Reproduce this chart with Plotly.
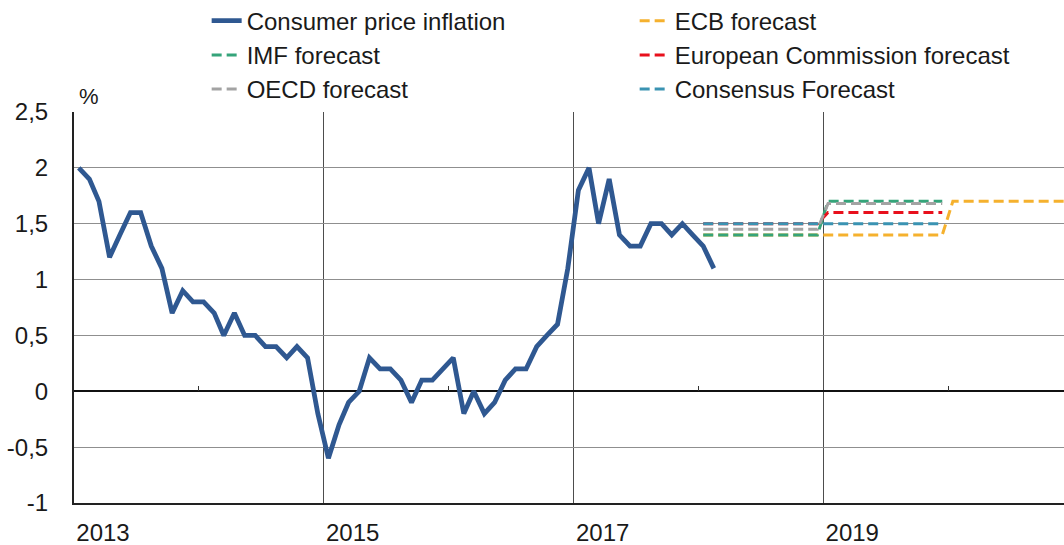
import pandas as pd
import plotly.graph_objects as go

# ---------------- data ----------------
cpi = [2.0, 1.9, 1.7, 1.2, 1.4, 1.6, 1.6, 1.3, 1.1, 0.7, 0.9, 0.8,
       0.8, 0.7, 0.5, 0.7, 0.5, 0.5, 0.4, 0.4, 0.3, 0.4, 0.3, -0.2,
       -0.6, -0.3, -0.1, 0.0, 0.3, 0.2, 0.2, 0.1, -0.1, 0.1, 0.1, 0.2,
       0.3, -0.2, 0.0, -0.2, -0.1, 0.1, 0.2, 0.2, 0.4, 0.5, 0.6, 1.1,
       1.8, 2.0, 1.5, 1.9, 1.4, 1.3, 1.3, 1.5, 1.5, 1.4, 1.5, 1.4,
       1.3, 1.1]
cpi_start = "2013-01-01"

fc_years = [2018, 2019]
imf_fc = [1.4, 1.7]
oecd_fc = [1.45, 1.68]
ec_fc = [1.5, 1.6]
consensus_fc = [1.5, 1.5]
ecb_years = [2018, 2019, 2020]
ecb_fc = [1.4, 1.4, 1.7]

x_tick_years = [2013, 2015, 2017, 2019]
minor_tick_years = [2014, 2016, 2018, 2020]
y_ticks = [-1, -0.5, 0, 0.5, 1, 1.5, 2, 2.5]
y_tick_text = ["-1", "-0,5", "0", "0,5", "1", "1,5", "2", "2,5"]

# ---------------- helpers ----------------
cpi_dates = pd.date_range(cpi_start, periods=len(cpi), freq="MS") + pd.Timedelta(days=14)


def step_series(years, values):
    xs, ys = [], []
    for yr, v in zip(years, values):
        xs += [f"{yr}-01-15", f"{yr}-12-15"]
        ys += [v, v]
    return xs, ys


FONT = "Liberation Sans, Arial, sans-serif"
TXT = "#1a1a1a"
fig = go.Figure()

fig.add_trace(go.Scatter(x=cpi_dates, y=cpi, mode="lines", name="Consumer price inflation",
                         line=dict(color="#2f5891", width=4.8)))

series = [
    ("ECB forecast", ecb_years, ecb_fc, "#f5b12e"),
    ("IMF forecast", fc_years, imf_fc, "#35a47a"),
    ("European Commission forecast", fc_years, ec_fc, "#e8101c"),
    ("OECD forecast", fc_years, oecd_fc, "#a3a3a3"),
    ("Consensus Forecast", fc_years, consensus_fc, "#3a93b2"),
]
for name, yrs, vals, col in series:
    xs, ys = step_series(yrs, vals)
    fig.add_trace(go.Scatter(x=xs, y=ys, mode="lines", name=name,
                             line=dict(color=col, width=3, dash="10px,5px")))

fig.update_layout(
    width=1064, height=545,
    margin=dict(l=74, r=0, t=112, b=42, autoexpand=False),
    paper_bgcolor="white", plot_bgcolor="white",
    separators=", ",
    font=dict(family=FONT, size=24, color=TXT),
    showlegend=True,
    legend=dict(orientation="h", x=0.134, y=1.29, xanchor="left", yanchor="top",
                entrywidth=383, entrywidthmode="pixels",
                font=dict(family=FONT, size=24, color=TXT),
                bgcolor="rgba(0,0,0,0)", tracegroupgap=0),
    xaxis=dict(type="date", range=["2013-01-01", "2020-12-05"], automargin=False,
               tickmode="array",
               tickvals=[f"{y}-01-01" for y in x_tick_years],
               ticktext=[str(y) for y in x_tick_years],
               ticklabelshift=29,
               ticks="outside", ticklen=7, tickcolor="rgba(0,0,0,0)",
               showgrid=True, gridcolor="#4d4d4d", gridwidth=1,
               showline=True, linecolor="#222", linewidth=2,
               zeroline=False,
               tickfont=dict(family=FONT, size=24, color=TXT)),
    xaxis2=dict(type="date", range=["2013-01-01", "2020-12-05"], overlaying="x",
                anchor="free", position=(0 - (-1)) / 3.5, side="bottom", automargin=False,
                tickmode="array", tickvals=[f"{y}-01-01" for y in minor_tick_years],
                ticks="inside", ticklen=5, tickwidth=1, tickcolor="#333",
                showticklabels=False, showgrid=False, showline=False, zeroline=False),
    yaxis=dict(range=[-1, 2.5], tickmode="array", tickvals=y_ticks, ticktext=y_tick_text,
               automargin=False,
               ticks="outside", ticklen=19, tickcolor="rgba(0,0,0,0)",
               showgrid=True, gridcolor="#8f8f8f", gridwidth=1.2,
               zeroline=True, zerolinecolor="#111", zerolinewidth=1.5,
               showline=True, linecolor="#222", linewidth=2,
               tickfont=dict(family=FONT, size=24, color=TXT)),
    annotations=[dict(text="%", xref="paper", yref="paper", x=0, y=1,
                      xanchor="left", yanchor="bottom", xshift=3, yshift=1,
                      showarrow=False, font=dict(family=FONT, size=22, color=TXT))],
)

# invisible trace to attach to the minor-tick axis
fig.add_trace(go.Scatter(x=[cpi_dates[0]], y=[0], xaxis="x2", mode="markers",
                         marker=dict(opacity=0), showlegend=False, hoverinfo="skip"))

fig.write_html("out.html",
               config={"displayModeBar": False},
               post_script="document.body.style.margin='0';document.body.style.padding='0';")
